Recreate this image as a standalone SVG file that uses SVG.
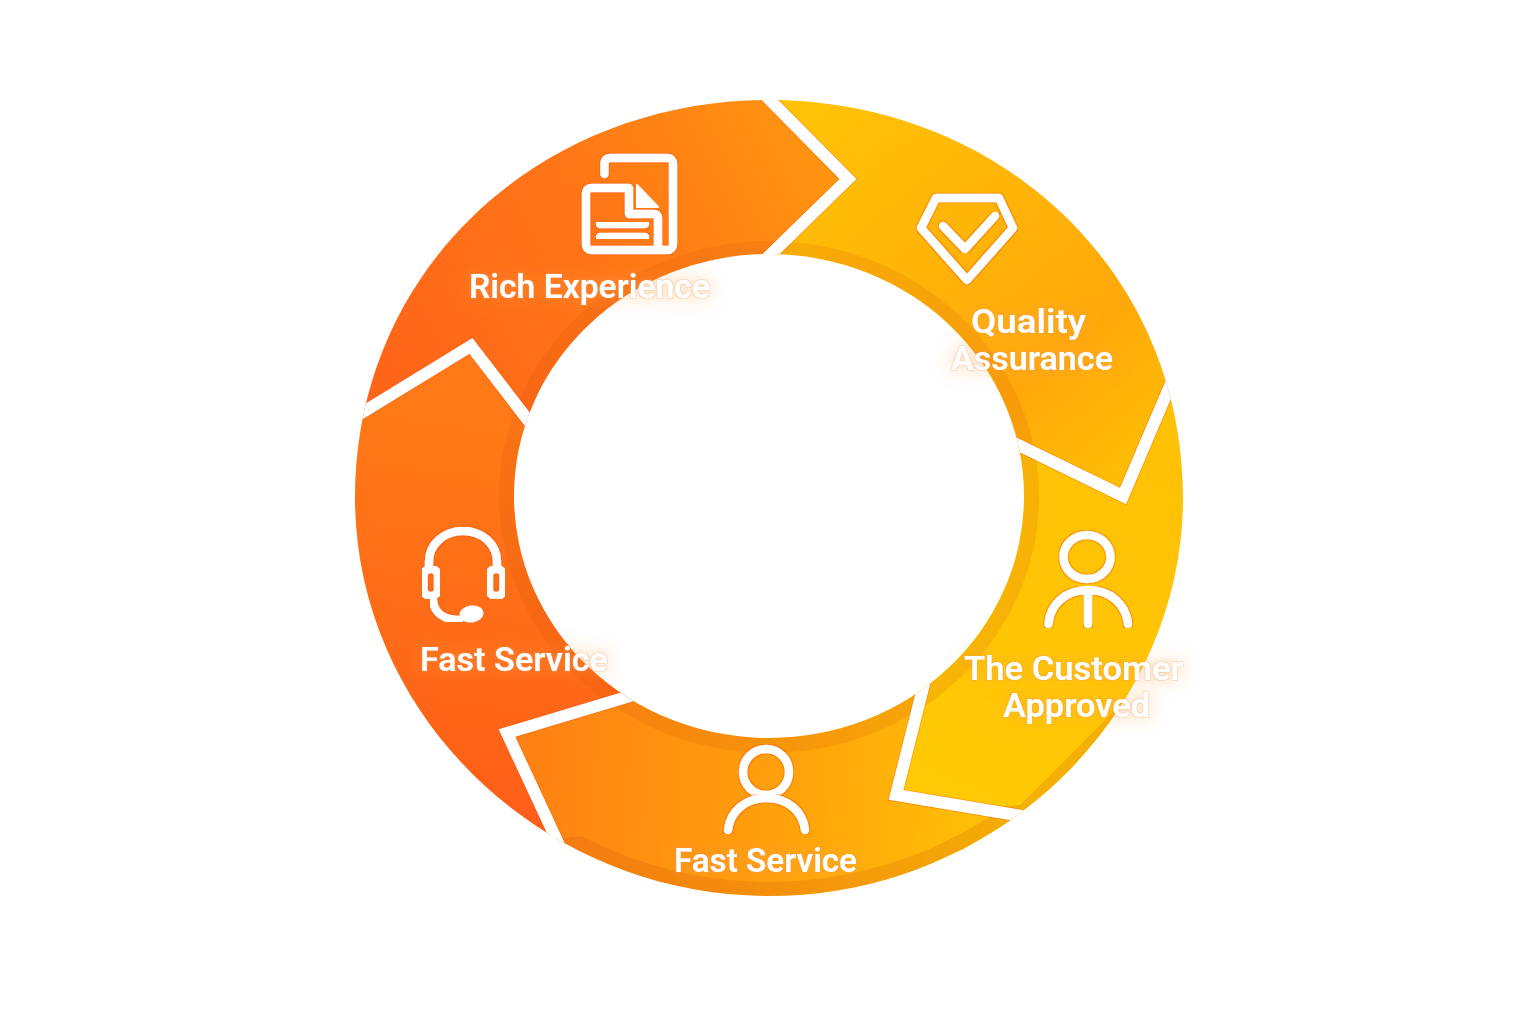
<svg xmlns="http://www.w3.org/2000/svg" width="1536" height="1024" viewBox="0 0 1536 1024">
<style>
.lbl{font-family:Roboto,"Liberation Sans",sans-serif;font-weight:600;font-size:33.5px;fill:#fff;text-anchor:middle;filter:url(#glow)}
.ic{fill:none;stroke:#fff;stroke-width:8.5;stroke-linecap:round;stroke-linejoin:round;filter:url(#edge)}
.icf{fill:#fff;stroke:#fff;stroke-width:2;stroke-linejoin:round}
.gap{fill:none;stroke:#fff;stroke-width:12;stroke-linejoin:miter}
.gapedge{fill:none;stroke:#f4500f;stroke-opacity:.4;stroke-width:13.5;stroke-linejoin:miter}
</style>
<defs>
<clipPath id="ring"><path clip-rule="evenodd" d="M355 498C355 269 540 100 769 100C998 100 1183 269 1183 498C1183 713 998 896 769 896C540 896 355 713 355 498ZM514 496a255 242 0 1 0 510 0a255 242 0 1 0-510 0Z"/></clipPath>
<clipPath id="lowband"><path d="M563 838L1020 805L1160 665L1300 700V1000H500Z"/></clipPath>
<linearGradient id="gA" gradientUnits="userSpaceOnUse" x1="400" y1="400" x2="840" y2="180"><stop offset="0" stop-color="#ff6519"/><stop offset=".5" stop-color="#ff7517"/><stop offset="1" stop-color="#ff9510"/></linearGradient>
<linearGradient id="gB" gradientUnits="userSpaceOnUse" x1="820" y1="110" x2="1130" y2="490"><stop offset="0" stop-color="#ffc206"/><stop offset=".7" stop-color="#ffa80a"/><stop offset="1" stop-color="#ffc005"/></linearGradient>
<linearGradient id="gC" gradientUnits="userSpaceOnUse" x1="1100" y1="440" x2="950" y2="780"><stop offset="0" stop-color="#ffc105"/><stop offset="1" stop-color="#ffc905"/></linearGradient>
<linearGradient id="gD" gradientUnits="userSpaceOnUse" x1="520" y1="760" x2="1000" y2="790"><stop offset="0" stop-color="#ff8014"/><stop offset=".45" stop-color="#ff9a0d"/><stop offset="1" stop-color="#ffc206"/></linearGradient>
<linearGradient id="gE" gradientUnits="userSpaceOnUse" x1="520" y1="420" x2="470" y2="800"><stop offset="0" stop-color="#ff7a16"/><stop offset="1" stop-color="#ff5f18"/></linearGradient>
<filter id="glow" x="-25%" y="-70%" width="150%" height="240%">
<feGaussianBlur in="SourceAlpha" stdDeviation="9" result="b1"/>
<feFlood flood-color="#ffa040" flood-opacity=".6"/><feComposite in2="b1" operator="in" result="g1"/>
<feMorphology in="SourceAlpha" operator="dilate" radius=".6" result="d"/>
<feFlood flood-color="#e89a60" flood-opacity=".25"/><feComposite in2="d" operator="in" result="g2"/>
<feMerge><feMergeNode in="g1"/><feMergeNode in="g2"/><feMergeNode in="SourceGraphic"/></feMerge>
</filter>
<filter id="edge" x="-10%" y="-10%" width="120%" height="120%">
<feMorphology in="SourceAlpha" operator="dilate" radius=".7" result="d"/>
<feFlood flood-color="#f4500f" flood-opacity=".4"/><feComposite in2="d" operator="in" result="g"/>
<feMerge><feMergeNode in="g"/><feMergeNode in="SourceGraphic"/></feMerge>
</filter>
</defs>

<g id="ring-segments" clip-path="url(#ring)">
<g id="seg-quality"><path fill="url(#gB)" d="M752 80L1300 60V388H1169L1123 496L1018 445L800 400V258H767L848 179Z"/></g>
<g id="seg-customer"><path fill="url(#gC)" d="M1169 388H1300V900H1014L896 795L922 690L940 445H1018L1123 496Z"/></g>
<g id="seg-bottom"><path fill="url(#gD)" d="M507 733L630 696L780 650L922 690L896 795L1014 814L1000 1000H600L553 832Z"/></g>
<g id="seg-left"><path fill="url(#gE)" d="M300 447L362 413L471 346L526 418L600 560L630 696L507 733L553 832L400 1000H250V400Z"/></g>
<g id="seg-rich"><path fill="url(#gA)" d="M752 80L848 179L767 258L640 350L526 418L471 346L362 413L250 450V60Z"/></g>
<path id="inner-band" fill="#c8500a" fill-opacity=".15" fill-rule="evenodd" d="M499 497a270 256 0 1 0 540 0a270 256 0 1 0-540 0ZM514 496a255 242 0 1 0 510 0a255 242 0 1 0-510 0Z"/>
<path id="outer-band" clip-path="url(#lowband)" fill="#c8500a" fill-opacity=".2" fill-rule="evenodd" d="M355 498C355 713 540 896 769 896C998 896 1183 713 1183 498V300H355ZM367 484a402 398 0 1 0 804 0a402 398 0 1 0-804 0Z"/>
</g>

<g id="connectors" clip-path="url(#ring)">
<path class="gapedge" d="M762 92L848 179L762 263"/><path class="gapedge" d="M355 417L471 346L531 424"/><path class="gapedge" d="M1172 381L1123 496L1012 442"/><path class="gapedge" d="M925 680L896 795L1022 816"/><path class="gapedge" d="M640 693L507 733L560 847"/>
<path class="gap" d="M762 92L848 179L762 263"/>
<path class="gap" d="M355 417L471 346L531 424"/>
<path class="gap" d="M1172 381L1123 496L1012 442"/>
<path class="gap" d="M925 680L896 795L1022 816"/>
<path class="gap" d="M640 693L507 733L560 847"/>
</g>

<g id="node-rich-experience">
<path class="ic" d="M604.5 174V164q0-6 6-6H667q6 0 6 6V244q0 6-6 6H592q-6 0-6-6V194q0-6 6-6H629V214H654q4 0 4 4V250"/>
<path class="icf" d="M637 185L658 207H637Z"/>
<path class="ic" d="M600 224H645M600 237H645"/>
<text class="lbl" x="589.5" y="298" textLength="241" lengthAdjust="spacingAndGlyphs">Rich Experience</text>
</g>
<g id="node-quality-assurance">
<path class="ic" d="M936 198H999L1013 228L967 280L921 228Z"/>
<path class="ic" d="M943 226L965 249L995 216"/>
<text class="lbl" x="1028.5" y="333" textLength="115" lengthAdjust="spacingAndGlyphs">Quality</text>
<text class="lbl" x="1032" y="370" textLength="162" lengthAdjust="spacingAndGlyphs">Assurance</text>
</g>
<g id="node-customer-approved">
<ellipse class="ic" cx="1087" cy="557" rx="23.5" ry="22"/>
<path class="ic" d="M1048.5 624C1050 604 1066 590 1088 590C1110 590 1126 604 1128 624M1088 590V624"/>
<text class="lbl" x="1073.5" y="680" textLength="219" lengthAdjust="spacingAndGlyphs">The Customer</text>
<text class="lbl" x="1076.5" y="717" textLength="147" lengthAdjust="spacingAndGlyphs">Approved</text>
</g>
<g id="node-fast-service-bottom">
<circle class="ic" cx="766" cy="772" r="23"/>
<path class="ic" d="M728 830C730 811 746 798 766.5 798C787 798 803 811 805 830"/>
<text class="lbl" x="765.5" y="872" textLength="183" lengthAdjust="spacingAndGlyphs">Fast Service</text>
</g>
<g id="node-fast-service-left">
<path class="ic" d="M429 566V562C429 544 444 531 463 531C482 531 497 544 497 562V566"/>
<rect class="ic" x="423.5" y="569" width="14.5" height="27" rx="7"/>
<rect class="ic" x="489" y="569" width="14.5" height="27" rx="7"/>
<path class="ic" d="M433 600C434 612 443 620 460 620"/>
<ellipse class="icf" cx="471.5" cy="614" rx="11" ry="7.5" transform="rotate(-8 471.5 614)"/>
<text class="lbl" x="514" y="671" textLength="188" lengthAdjust="spacingAndGlyphs">Fast Service</text>
</g>
</svg>
